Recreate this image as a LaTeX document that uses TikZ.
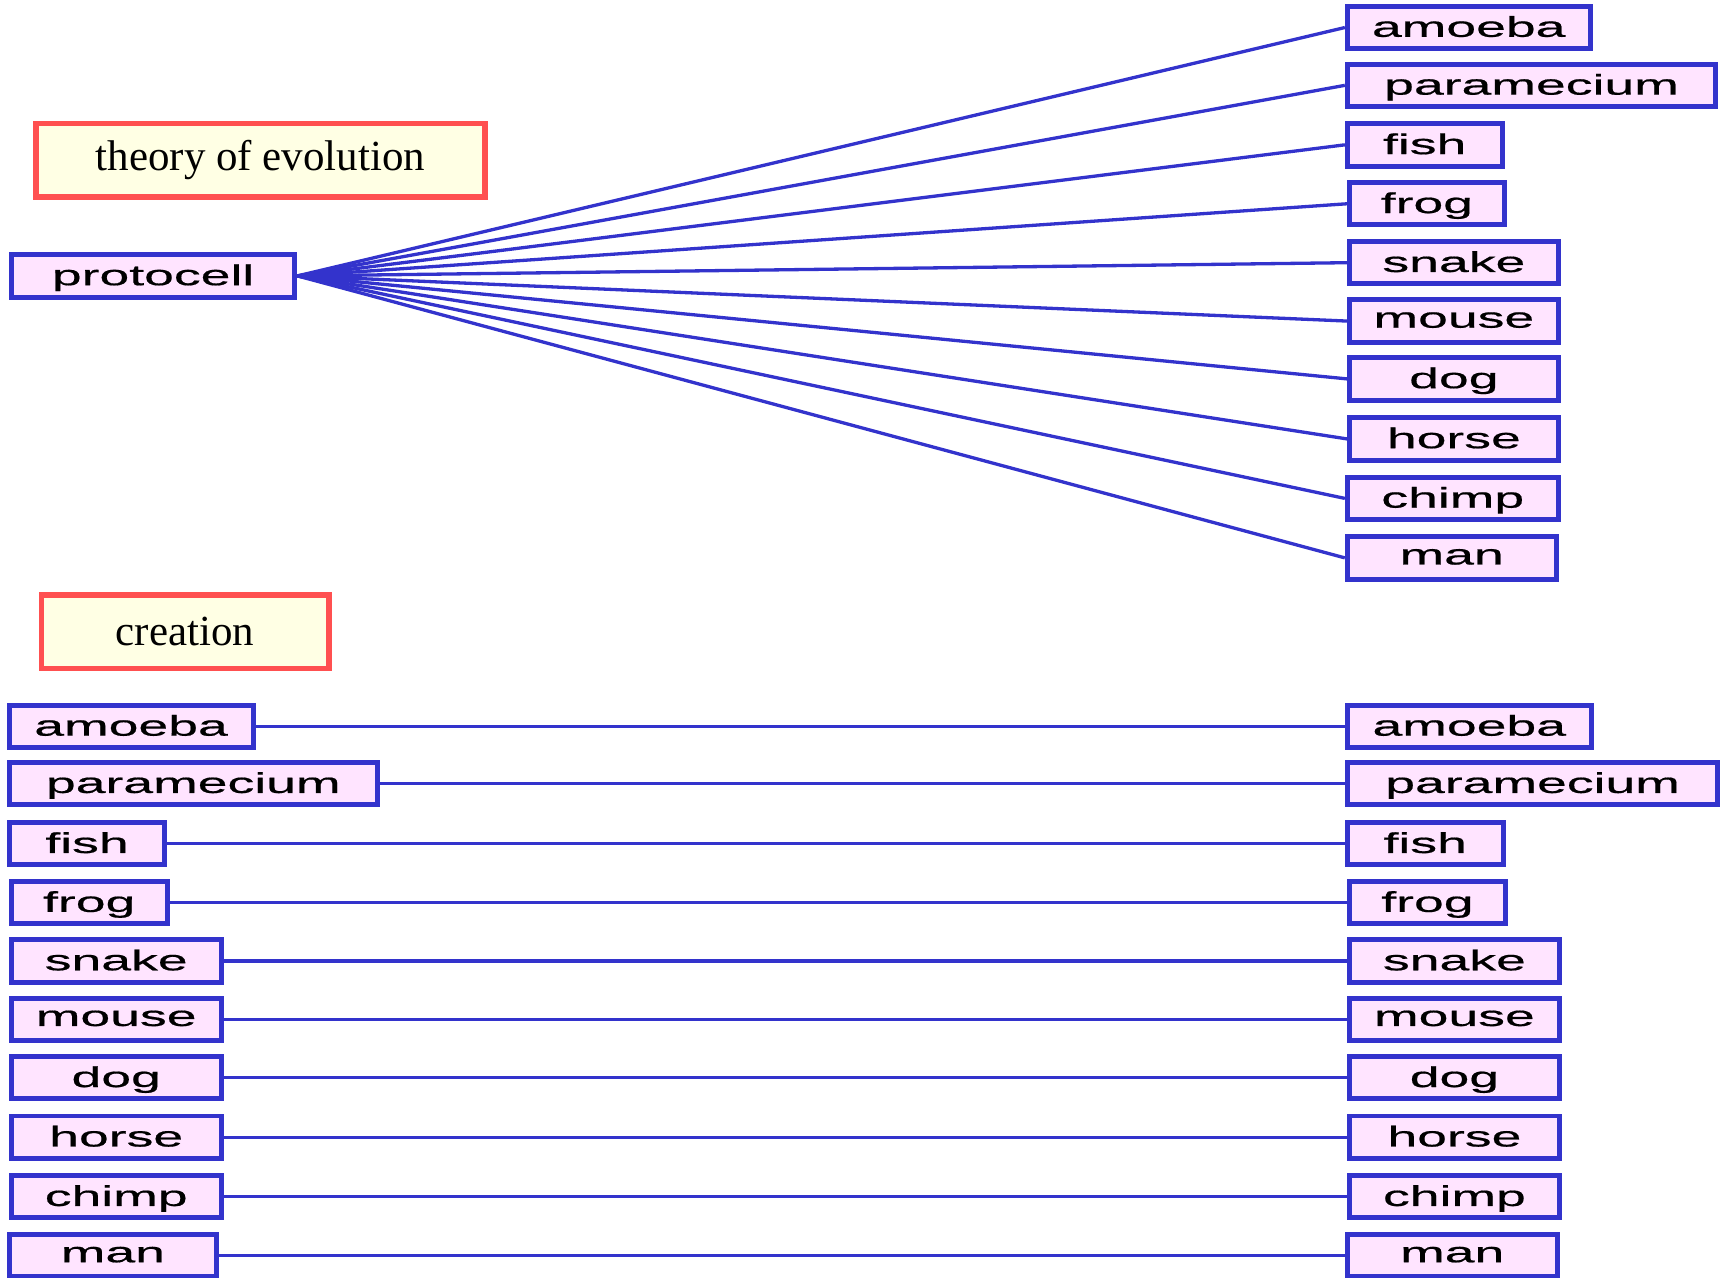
\documentclass[tikz,border=0pt]{standalone}
\usepackage{fontspec}
\newfontfamily\widesans[FakeStretch=1.87,FakeBold=0.6]{Liberation Sans}
\newfontfamily\titleserif{Liberation Serif}
\definecolor{bordblue}{HTML}{3333CC}
\definecolor{boxpink}{HTML}{FFE4FF}
\definecolor{titlered}{HTML}{FF5050}
\definecolor{titlefill}{HTML}{FFFFE4}
\begin{document}
\begin{tikzpicture}[x=1pt,y=-1pt,
  wbox/.style={draw=bordblue, line width=4.5pt, fill=boxpink, rectangle, inner sep=0pt,
    minimum height=38.5pt, font=\widesans\fontsize{26}{30}\selectfont, text=black,
    text depth=2pt},
  tbox/.style={draw=titlered, line width=5pt, fill=titlefill, rectangle, inner sep=0pt,
    minimum height=67pt, font=\titleserif\fontsize{39}{44}\selectfont, text=black},
  conn/.style={draw=bordblue, line width=3pt}]
\useasboundingbox (0,0) rectangle (1568,1160);
% titles
\node[tbox, minimum width=408pt] (tev) at (236.5,145.5) {theory of evolution};
\node[tbox, minimum width=261pt] (tcr) at (168,573.5) {creation};
% protocell
\node[wbox, minimum width=257.5pt] (proto) at (139,250.5) {protocell};
% top right
\node[wbox, minimum width=220.5pt] (ta) at (1333.5,25) {amoeba};
\node[wbox, minimum width=334.5pt] (tp) at (1390.5,77.5) {paramecium};
\node[wbox, minimum width=140.5pt] (tf) at (1293.5,131.5) {fish};
\node[wbox, minimum width=140.5pt] (tg) at (1295.5,185) {frog};
\node[wbox, minimum width=189.5pt] (ts) at (1320,238.5) {snake};
\node[wbox, minimum width=189.5pt] (tm) at (1320,291.5) {mouse};
\node[wbox, minimum width=189.5pt] (td) at (1320,344) {dog};
\node[wbox, minimum width=189.5pt] (th) at (1320,398.5) {horse};
\node[wbox, minimum width=191.5pt] (tc) at (1319,452.5) {chimp};
\node[wbox, minimum width=189.5pt] (tn) at (1318,506.5) {man};
\foreach \n in {ta,tp,tf,tg,ts,tm,td,th,tc,tn}
  \draw[conn] (proto.east) -- (\n.west);
% bottom left
\node[wbox, minimum width=221.5pt] (la) at (119,659.5) {amoeba};
\node[wbox, minimum width=334.5pt] (lp) at (175.5,711.5) {paramecium};
\node[wbox, minimum width=141.5pt] (lf) at (79,766) {fish};
\node[wbox, minimum width=141.5pt] (lg) at (81,819.5) {frog};
\node[wbox, minimum width=190.5pt] (ls) at (105.5,872.5) {snake};
\node[wbox, minimum width=190.5pt] (lm) at (105.5,925.5) {mouse};
\node[wbox, minimum width=190.5pt] (ld) at (105.5,978.5) {dog};
\node[wbox, minimum width=190.5pt] (lh) at (105.5,1032.5) {horse};
\node[wbox, minimum width=190.5pt] (lc) at (105.5,1086.5) {chimp};
\node[wbox, minimum width=188.5pt] (ln) at (102.5,1140) {man};
% bottom right
\node[wbox, minimum width=221.5pt] (ra) at (1334,659.5) {amoeba};
\node[wbox, minimum width=336.5pt] (rp) at (1391.5,711.5) {paramecium};
\node[wbox, minimum width=141.5pt] (rf) at (1294,766) {fish};
\node[wbox, minimum width=141.5pt] (rg) at (1296,819.5) {frog};
\node[wbox, minimum width=190.5pt] (rs) at (1320.5,872.5) {snake};
\node[wbox, minimum width=190.5pt] (rm) at (1320.5,925.5) {mouse};
\node[wbox, minimum width=190.5pt] (rd) at (1320.5,978.5) {dog};
\node[wbox, minimum width=190.5pt] (rh) at (1320.5,1032.5) {horse};
\node[wbox, minimum width=190.5pt] (rc) at (1320.5,1086.5) {chimp};
\node[wbox, minimum width=190.5pt] (rn) at (1318.5,1140) {man};
\foreach \l/\r in {la/ra,lp/rp,lf/rf,lg/rg,ls/rs,lm/rm,ld/rd,lh/rh,lc/rc,ln/rn}
  \draw[conn] (\l.east) -- (\r.west);
\end{tikzpicture}
\end{document}
